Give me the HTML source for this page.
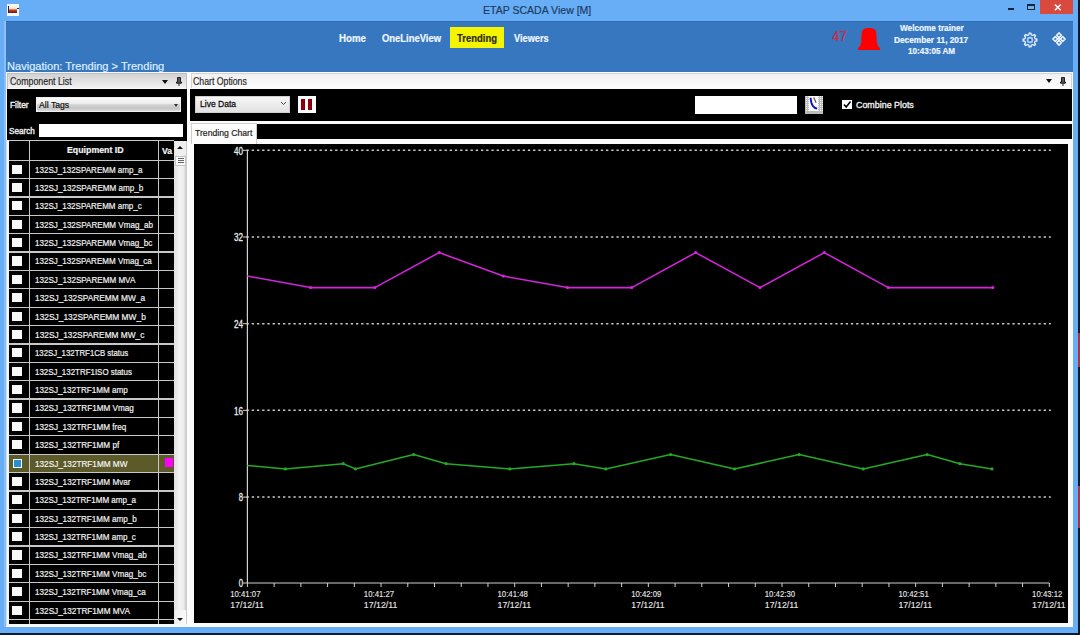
<!DOCTYPE html><html><head><meta charset="utf-8"><style>
*{margin:0;padding:0;box-sizing:border-box}
html,body{width:1080px;height:635px;overflow:hidden;background:#0c1b2c;font-family:"Liberation Sans",sans-serif}
.a{position:absolute}
.t{position:absolute;white-space:nowrap;line-height:1;transform-origin:0 0;-webkit-text-stroke:0.2px currentColor}
</style></head><body><div class="a" style="left:1078px;top:333px;width:2px;height:34px;background:#b03040"></div>
<div class="a" style="left:1078px;top:486px;width:2px;height:42px;background:#b03040"></div>
<div class="a" style="left:0;top:0;width:1077.6px;height:632.7px;background:#68aef6"></div>
<div class="a" style="left:4.4px;top:21px;width:1.6px;height:606px;background:#8cc0f4"></div>
<div class="a" style="left:6.9px;top:3.8px;width:12px;height:11.9px;background:#f2f8fc"></div>
<div class="a" style="left:8.2px;top:5.7px;width:9.1px;height:7.2px;background:linear-gradient(#fff8f0 0%,#f8d8c0 40%,#c04828 58%,#6a1408 100%);border-left:1px solid #402020"></div>
<div class="a" style="left:16.5px;top:7.6px;width:2.5px;height:1.4px;background:#1a2a60"></div>
<div class="t" style="left:483.00px;top:4.60px;font-size:11px;color:#1d3b63;transform:scaleX(0.9576);">ETAP SCADA View [M]</div>
<div class="a" style="left:1007.8px;top:7.8px;width:6.3px;height:2.2px;background:#0e2440"></div>
<div class="a" style="left:1027px;top:3.7px;width:7.8px;height:5.9px;border:1.2px solid #0e2440;border-top-width:2px;background:#7ab0e0"></div>
<div class="a" style="left:1040px;top:0;width:33px;height:13.7px;background:#d84a3e"></div>
<svg class="a" style="left:1053.5px;top:3.5px" width="8" height="7" viewBox="0 0 8 7"><path d="M.9 .5l5.8 5.8M6.7 .5L.9 6.3" stroke="#fff" stroke-width="1.5"/></svg>
<div class="a" style="left:6px;top:21.4px;width:1066.8px;height:50.6px;background:#3777c0;border-top:1px solid #2c6ab2"></div>
<div class="a" style="left:450.3px;top:26.8px;width:53.9px;height:21.3px;background:#f5f500"></div>
<div class="t" style="left:338.50px;top:33.90px;font-size:10px;font-weight:bold;color:#eef6ff;transform:scaleX(0.9718);">Home</div>
<div class="t" style="left:381.70px;top:33.90px;font-size:10px;font-weight:bold;color:#eef6ff;transform:scaleX(0.9423);">OneLineView</div>
<div class="t" style="left:457.30px;top:33.90px;font-size:10px;font-weight:bold;color:#2b2b10;transform:scaleX(0.9474);">Trending</div>
<div class="t" style="left:513.60px;top:33.90px;font-size:10px;font-weight:bold;color:#eef6ff;transform:scaleX(0.9223);">Viewers</div>
<div class="t" style="left:832.10px;top:28.70px;font-size:14.5px;color:#d02a40;transform:scaleX(0.9300);">47</div>
<svg class="a" style="left:858px;top:28.2px" width="22" height="22" viewBox="0 0 22 22"><path d="M11 0C6.2 0 3.9 1.6 3.6 5.5L3.1 14C2.9 17 1.6 18.8 0 20V21.9H22V20C20.4 18.8 19.1 17 18.9 14L18.4 5.5C18.1 1.6 15.8 0 11 0Z" fill="#ff0000"/></svg>
<div class="t" style="left:899.60px;top:23.80px;font-size:9px;font-weight:bold;color:#eef6ff;transform:scaleX(0.9118);">Welcome trainer</div>
<div class="t" style="left:893.75px;top:35.70px;font-size:9px;font-weight:bold;color:#eef6ff;transform:scaleX(0.9210);">December 11, 2017</div>
<div class="t" style="left:907.90px;top:47.20px;font-size:9px;font-weight:bold;color:#eef6ff;transform:scaleX(0.9024);">10:43:05 AM</div>
<svg class="a" style="left:1021px;top:30.5px" width="18" height="18" viewBox="0 0 18 18"><path d="M7.76 3.85 L8.07 2.06 L9.93 2.06 L10.24 3.85 L11.77 4.48 L13.25 3.44 L14.56 4.75 L13.52 6.23 L14.15 7.76 L15.94 8.07 L15.94 9.93 L14.15 10.24 L13.52 11.77 L14.56 13.25 L13.25 14.56 L11.77 13.52 L10.24 14.15 L9.93 15.94 L8.07 15.94 L7.76 14.15 L6.23 13.52 L4.75 14.56 L3.44 13.25 L4.48 11.77 L3.85 10.24 L2.06 9.93 L2.06 8.07 L3.85 7.76 L4.48 6.23 L3.44 4.75 L4.75 3.44 L6.23 4.48Z" fill="none" stroke="#eaf4ff" stroke-width="1.3" stroke-linejoin="round"/><circle cx="9" cy="9" r="2.4" fill="none" stroke="#b0d0f4" stroke-width="1.6"/><circle cx="9" cy="9" r="0.9" fill="#224a80"/></svg>
<svg class="a" style="left:1049.5px;top:30.3px" width="18" height="18" viewBox="0 0 18 18"><g fill="#9cc2ee" stroke="#eef6ff" stroke-width="1.3" stroke-linejoin="round"><path d="M9 2.75L11.5 5.25L9 7.75L6.5 5.25Z"/><path d="M9 10.25L11.5 12.75L9 15.25L6.5 12.75Z"/><path d="M5.25 6.5L7.75 9L5.25 11.5L2.75 9Z"/><path d="M12.75 6.5L15.25 9L12.75 11.5L10.25 9Z"/></g><circle cx="9" cy="9" r="1.3" fill="#d8e8fa"/><g fill="#2a5a98"><circle cx="9" cy="5.25" r=".65"/><circle cx="9" cy="12.75" r=".65"/><circle cx="5.25" cy="9" r=".65"/><circle cx="12.75" cy="9" r=".65"/></g></svg>
<div class="t" style="left:6.60px;top:60.50px;font-size:11px;color:#dcefff;transform:scaleX(1.0061);">Navigation: Trending &gt; Trending</div>
<div class="a" style="left:6px;top:72px;width:1066.5px;height:554.5px;background:#fcfcfc"></div>
<div class="a" style="left:6px;top:72px;width:181px;height:554px;background:#f6f6f6"></div>
<div class="a" style="left:6.5px;top:72.5px;width:180px;height:16px;background:linear-gradient(#d2d2d2,#f0f0f0 90%,#fafafa);border:1px solid #c0c0c0;border-bottom:0"></div>
<div class="t" style="left:9.70px;top:77.00px;font-size:10px;color:#2a2a2a;transform:scaleX(0.8795);">Component List</div>
<div class="a" style="left:161.5px;top:79.5px;width:0;height:0;border-left:3.5px solid transparent;border-right:3.5px solid transparent;border-top:4px solid #111"></div>
<svg class="a" style="left:176px;top:77px" width="6" height="9" viewBox="0 0 6 9"><path d="M1.5 .5h3v4.5h1v1.2H.5V5h1z" fill="#555" stroke="#111" stroke-width=".9"/><path d="M3 6.2V9" stroke="#222" stroke-width="1"/></svg>
<div class="a" style="left:7.3px;top:88.5px;width:179.8px;height:535.8px;background:#000"></div>
<div class="a" style="left:6px;top:139.5px;width:2.9px;height:486px;background:linear-gradient(90deg,#b8d4f0,#f4f8fa 50%,#f0f0f0)"></div>
<div class="t" style="left:10.00px;top:101.10px;font-size:9px;color:#eee;transform:scaleX(0.9300);-webkit-text-stroke:0.4px currentColor;">Filter</div>
<div class="a" style="left:36.1px;top:96.7px;width:145.2px;height:15.2px;background:linear-gradient(#fbfbfb 0%,#ededed 42%,#d2d2d2 52%,#c6c6c6 80%,#dcdcdc 100%);border:1px solid #f0f0f0"></div>
<div class="t" style="left:39.20px;top:101.40px;font-size:9px;color:#111;transform:scaleX(0.9633);">All Tags</div>
<div class="a" style="left:174px;top:103.5px;width:0;height:0;border-left:2.5px solid transparent;border-right:2.5px solid transparent;border-top:3px solid #333"></div>
<div class="t" style="left:9.40px;top:126.70px;font-size:9px;color:#eee;transform:scaleX(0.9047);-webkit-text-stroke:0.4px currentColor;">Search</div>
<div class="a" style="left:38.9px;top:123.5px;width:144.5px;height:13px;background:#fff"></div>
<div class="a" style="left:8.9px;top:140.0px;width:165.4px;height:484.29999999999995px;overflow:hidden"><div class="a" style="left:0;top:0;width:165.4px;height:1.2px;background:#c8c8c8"></div><div class="t" style="left:57.80px;top:6.30px;font-size:9px;font-weight:bold;color:#f4f4f4;transform:scaleX(0.9759);">Equipment ID</div><div class="t" style="left:153.40px;top:6.50px;font-size:9px;font-weight:bold;color:#f4f4f4;transform:scaleX(0.9608);">Va</div><div class="a" style="left:3.299999999999999px;top:24.499999999999993px;width:9.8px;height:9.2px;background:#f8f8f8"></div><div class="a" style="left:0;top:19.599999999999994px;width:165.4px;height:1.2px;background:#c8c8c8"></div><div class="t" style="left:26.10px;top:25.60px;font-size:9px;color:#f2f2f2;transform:scaleX(0.8920);">132SJ_132SPAREMM amp_a</div><div class="a" style="left:3.299999999999999px;top:42.87499999999999px;width:9.8px;height:9.2px;background:#f8f8f8"></div><div class="a" style="left:0;top:37.974999999999994px;width:165.4px;height:1.2px;background:#c8c8c8"></div><div class="t" style="left:26.10px;top:43.97px;font-size:9px;color:#f2f2f2;transform:scaleX(0.8995);">132SJ_132SPAREMM amp_b</div><div class="a" style="left:3.299999999999999px;top:61.24999999999999px;width:9.8px;height:9.2px;background:#f8f8f8"></div><div class="a" style="left:0;top:56.349999999999994px;width:165.4px;height:1.2px;background:#c8c8c8"></div><div class="t" style="left:26.10px;top:62.35px;font-size:9px;color:#f2f2f2;transform:scaleX(0.8908);">132SJ_132SPAREMM amp_c</div><div class="a" style="left:3.299999999999999px;top:79.625px;width:9.8px;height:9.2px;background:#f8f8f8"></div><div class="a" style="left:0;top:74.725px;width:165.4px;height:1.2px;background:#c8c8c8"></div><div class="t" style="left:26.10px;top:80.72px;font-size:9px;color:#f2f2f2;transform:scaleX(0.8972);">132SJ_132SPAREMM Vmag_ab</div><div class="a" style="left:3.299999999999999px;top:98.0px;width:9.8px;height:9.2px;background:#f8f8f8"></div><div class="a" style="left:0;top:93.1px;width:165.4px;height:1.2px;background:#c8c8c8"></div><div class="t" style="left:26.10px;top:99.10px;font-size:9px;color:#f2f2f2;transform:scaleX(0.8961);">132SJ_132SPAREMM Vmag_bc</div><div class="a" style="left:3.299999999999999px;top:116.375px;width:9.8px;height:9.2px;background:#f8f8f8"></div><div class="a" style="left:0;top:111.475px;width:165.4px;height:1.2px;background:#c8c8c8"></div><div class="t" style="left:26.10px;top:117.48px;font-size:9px;color:#f2f2f2;transform:scaleX(0.8923);">132SJ_132SPAREMM Vmag_ca</div><div class="a" style="left:3.299999999999999px;top:134.75000000000003px;width:9.8px;height:9.2px;background:#f8f8f8"></div><div class="a" style="left:0;top:129.85000000000002px;width:165.4px;height:1.2px;background:#c8c8c8"></div><div class="t" style="left:26.10px;top:135.85px;font-size:9px;color:#f2f2f2;transform:scaleX(0.8978);">132SJ_132SPAREMM MVA</div><div class="a" style="left:3.299999999999999px;top:153.12500000000003px;width:9.8px;height:9.2px;background:#f8f8f8"></div><div class="a" style="left:0;top:148.22500000000002px;width:165.4px;height:1.2px;background:#c8c8c8"></div><div class="t" style="left:26.10px;top:154.23px;font-size:9px;color:#f2f2f2;transform:scaleX(0.9269);">132SJ_132SPAREMM MW_a</div><div class="a" style="left:3.299999999999999px;top:171.50000000000003px;width:9.8px;height:9.2px;background:#f8f8f8"></div><div class="a" style="left:0;top:166.60000000000002px;width:165.4px;height:1.2px;background:#c8c8c8"></div><div class="t" style="left:26.10px;top:172.60px;font-size:9px;color:#f2f2f2;transform:scaleX(0.9320);">132SJ_132SPAREMM MW_b</div><div class="a" style="left:3.299999999999999px;top:189.87500000000003px;width:9.8px;height:9.2px;background:#f8f8f8"></div><div class="a" style="left:0;top:184.97500000000002px;width:165.4px;height:1.2px;background:#c8c8c8"></div><div class="t" style="left:26.10px;top:190.98px;font-size:9px;color:#f2f2f2;transform:scaleX(0.9241);">132SJ_132SPAREMM MW_c</div><div class="a" style="left:3.299999999999999px;top:208.25000000000003px;width:9.8px;height:9.2px;background:#f8f8f8"></div><div class="a" style="left:0;top:203.35000000000002px;width:165.4px;height:1.2px;background:#c8c8c8"></div><div class="t" style="left:26.10px;top:209.35px;font-size:9px;color:#f2f2f2;transform:scaleX(0.8706);">132SJ_132TRF1CB status</div><div class="a" style="left:3.299999999999999px;top:226.62500000000003px;width:9.8px;height:9.2px;background:#f8f8f8"></div><div class="a" style="left:0;top:221.72500000000002px;width:165.4px;height:1.2px;background:#c8c8c8"></div><div class="t" style="left:26.10px;top:227.73px;font-size:9px;color:#f2f2f2;transform:scaleX(0.8804);">132SJ_132TRF1ISO status</div><div class="a" style="left:3.299999999999999px;top:245.00000000000003px;width:9.8px;height:9.2px;background:#f8f8f8"></div><div class="a" style="left:0;top:240.10000000000002px;width:165.4px;height:1.2px;background:#c8c8c8"></div><div class="t" style="left:26.10px;top:246.10px;font-size:9px;color:#f2f2f2;transform:scaleX(0.8996);">132SJ_132TRF1MM amp</div><div class="a" style="left:3.299999999999999px;top:263.375px;width:9.8px;height:9.2px;background:#f8f8f8"></div><div class="a" style="left:0;top:258.475px;width:165.4px;height:1.2px;background:#c8c8c8"></div><div class="t" style="left:26.10px;top:264.48px;font-size:9px;color:#f2f2f2;transform:scaleX(0.9069);">132SJ_132TRF1MM Vmag</div><div class="a" style="left:3.299999999999999px;top:281.75px;width:9.8px;height:9.2px;background:#f8f8f8"></div><div class="a" style="left:0;top:276.85px;width:165.4px;height:1.2px;background:#c8c8c8"></div><div class="t" style="left:26.10px;top:282.85px;font-size:9px;color:#f2f2f2;transform:scaleX(0.9035);">132SJ_132TRF1MM freq</div><div class="a" style="left:3.299999999999999px;top:300.125px;width:9.8px;height:9.2px;background:#f8f8f8"></div><div class="a" style="left:0;top:295.225px;width:165.4px;height:1.2px;background:#c8c8c8"></div><div class="t" style="left:26.10px;top:301.23px;font-size:9px;color:#f2f2f2;transform:scaleX(0.9049);">132SJ_132TRF1MM pf</div><div class="a" style="left:0;top:313.6px;width:165.4px;height:18.375px;background:#5d5a2a"></div><div class="a" style="left:4.1px;top:318.8px;width:8.6px;height:9px;background:#2a8fd0;border:1.8px solid #f0fbff"></div><div class="a" style="left:156.1px;top:317.8px;width:8.3px;height:9.5px;background:#ff00ff"></div><div class="a" style="left:0;top:313.6px;width:165.4px;height:1.2px;background:#c8c8c8"></div><div class="t" style="left:26.10px;top:319.60px;font-size:9px;color:#f2f2f2;transform:scaleX(0.9101);">132SJ_132TRF1MM MW</div><div class="a" style="left:3.299999999999999px;top:336.875px;width:9.8px;height:9.2px;background:#f8f8f8"></div><div class="a" style="left:0;top:331.975px;width:165.4px;height:1.2px;background:#c8c8c8"></div><div class="t" style="left:26.10px;top:337.98px;font-size:9px;color:#f2f2f2;transform:scaleX(0.9049);">132SJ_132TRF1MM Mvar</div><div class="a" style="left:3.299999999999999px;top:355.25px;width:9.8px;height:9.2px;background:#f8f8f8"></div><div class="a" style="left:0;top:350.35px;width:165.4px;height:1.2px;background:#c8c8c8"></div><div class="t" style="left:26.10px;top:356.35px;font-size:9px;color:#f2f2f2;transform:scaleX(0.8925);">132SJ_132TRF1MM amp_a</div><div class="a" style="left:3.299999999999999px;top:373.625px;width:9.8px;height:9.2px;background:#f8f8f8"></div><div class="a" style="left:0;top:368.725px;width:165.4px;height:1.2px;background:#c8c8c8"></div><div class="t" style="left:26.10px;top:374.73px;font-size:9px;color:#f2f2f2;transform:scaleX(0.9004);">132SJ_132TRF1MM amp_b</div><div class="a" style="left:3.299999999999999px;top:392.0px;width:9.8px;height:9.2px;background:#f8f8f8"></div><div class="a" style="left:0;top:387.1px;width:165.4px;height:1.2px;background:#c8c8c8"></div><div class="t" style="left:26.10px;top:393.10px;font-size:9px;color:#f2f2f2;transform:scaleX(0.8965);">132SJ_132TRF1MM amp_c</div><div class="a" style="left:3.299999999999999px;top:410.375px;width:9.8px;height:9.2px;background:#f8f8f8"></div><div class="a" style="left:0;top:405.475px;width:165.4px;height:1.2px;background:#c8c8c8"></div><div class="t" style="left:26.10px;top:411.48px;font-size:9px;color:#f2f2f2;transform:scaleX(0.9011);">132SJ_132TRF1MM Vmag_ab</div><div class="a" style="left:3.299999999999999px;top:428.75px;width:9.8px;height:9.2px;background:#f8f8f8"></div><div class="a" style="left:0;top:423.85px;width:165.4px;height:1.2px;background:#c8c8c8"></div><div class="t" style="left:26.10px;top:429.85px;font-size:9px;color:#f2f2f2;transform:scaleX(0.9008);">132SJ_132TRF1MM Vmag_bc</div><div class="a" style="left:3.299999999999999px;top:447.125px;width:9.8px;height:9.2px;background:#f8f8f8"></div><div class="a" style="left:0;top:442.225px;width:165.4px;height:1.2px;background:#c8c8c8"></div><div class="t" style="left:26.10px;top:448.23px;font-size:9px;color:#f2f2f2;transform:scaleX(0.8967);">132SJ_132TRF1MM Vmag_ca</div><div class="a" style="left:3.299999999999999px;top:465.5px;width:9.8px;height:9.2px;background:#f8f8f8"></div><div class="a" style="left:0;top:460.6px;width:165.4px;height:1.2px;background:#c8c8c8"></div><div class="t" style="left:26.10px;top:466.60px;font-size:9px;color:#f2f2f2;transform:scaleX(0.9092);">132SJ_132TRF1MM MVA</div><div class="a" style="left:3.299999999999999px;top:483.875px;width:9.8px;height:9.2px;background:#f8f8f8"></div><div class="a" style="left:0;top:478.975px;width:165.4px;height:1.2px;background:#c8c8c8"></div><div class="a" style="left:20.200000000000003px;top:0;width:1.2px;height:500px;background:#c8c8c8"></div><div class="a" style="left:149.2px;top:0;width:1.2px;height:500px;background:#c8c8c8"></div></div>
<div class="a" style="left:174.3px;top:140.5px;width:12.9px;height:483.8px;background:linear-gradient(90deg,#e0e0e0,#f4f4f4 45%,#ececec 75%,#d4d4d4 88%,#c8c8c8)"></div>
<div class="a" style="left:175.2px;top:140.7px;width:10.6px;height:14.5px;background:#efefef"></div>
<div class="a" style="left:177px;top:146px;width:0;height:0;border-left:3.6px solid transparent;border-right:3.6px solid transparent;border-bottom:3.8px solid #111"></div>
<div class="a" style="left:175.3px;top:156px;width:10.4px;height:10px;background:#fafafa;border:1px solid #c4c4c4"></div>
<div class="a" style="left:177.5px;top:158.3px;width:6px;height:1.2px;background:#666;box-shadow:0 2px 0 #666,0 4px 0 #666"></div>
<div class="a" style="left:175.2px;top:610px;width:10.6px;height:14.3px;background:linear-gradient(90deg,#f0f0f0,#fafafa)"></div>
<div class="a" style="left:177px;top:617.5px;width:0;height:0;border-left:3.6px solid transparent;border-right:3.6px solid transparent;border-top:3.6px solid #111"></div>
<div class="a" style="left:190px;top:72.5px;width:882px;height:553.5px;background:#fbfbfb"></div>
<div class="a" style="left:190.5px;top:72.8px;width:881px;height:15.7px;background:linear-gradient(#f0f0f0,#f8f8f8 60%,#fdfdfd);border:1px solid #d4d4d4;border-bottom:0"></div>
<div class="t" style="left:193.40px;top:76.60px;font-size:10px;color:#2a2a2a;transform:scaleX(0.8720);">Chart Options</div>
<div class="a" style="left:1046px;top:79px;width:0;height:0;border-left:3.5px solid transparent;border-right:3.5px solid transparent;border-top:4px solid #111"></div>
<svg class="a" style="left:1060px;top:77px" width="6" height="9" viewBox="0 0 6 9"><path d="M1.5 .5h3v4.5h1v1.2H.5V5h1z" fill="#555" stroke="#111" stroke-width=".9"/><path d="M3 6.2V9" stroke="#222" stroke-width="1"/></svg>
<div class="a" style="left:190px;top:88.5px;width:882px;height:32.3px;background:#000"></div>
<div class="a" style="left:194.8px;top:95.8px;width:95.2px;height:17.7px;background:linear-gradient(#f6f6f6,#e2e2e2);border:1px solid #d0d0d0"></div>
<div class="t" style="left:199.60px;top:99.20px;font-size:9.5px;color:#111;transform:scaleX(0.8995);-webkit-text-stroke:0.3px currentColor;">Live Data</div>
<svg class="a" style="left:280px;top:101px" width="7" height="5" viewBox="0 0 7 5"><path d="M1 1l2.5 2.5L6 1" fill="none" stroke="#444" stroke-width="1"/></svg>
<div class="a" style="left:297.8px;top:95.8px;width:17.8px;height:17.6px;background:#fdfdfd"></div>
<div class="a" style="left:301.4px;top:98.8px;width:3.7px;height:11.6px;background:linear-gradient(90deg,#7a0008,#9a0010 50%,#780006)"></div>
<div class="a" style="left:308.3px;top:98.8px;width:3.7px;height:11.6px;background:linear-gradient(90deg,#7a0008,#9a0010 50%,#780006)"></div>
<div class="a" style="left:694.5px;top:96px;width:102.5px;height:17.5px;background:#fff"></div>
<div class="a" style="left:804.8px;top:95.6px;width:18.1px;height:18.1px;background:#f2f2f2;background-image:repeating-linear-gradient(90deg,#bcbcbc 0 .8px,transparent .8px 2px),repeating-linear-gradient(0deg,#bcbcbc 0 .8px,transparent .8px 2px)"></div>
<div class="a" style="left:809.2px;top:96px;width:8.7px;height:14.8px;background:#fdfdff"></div>
<div class="a" style="left:804.8px;top:110.8px;width:18.1px;height:2.9px;background:#bcbcbc"></div>
<svg class="a" style="left:804.8px;top:95.6px" width="18" height="18" viewBox="0 0 18 18"><path d="M5.6 1.8C5.8 5.4 6.3 7.9 7.8 9.9C8.8 11.4 10.2 12.3 12.2 12.6" fill="none" stroke="#1414c8" stroke-width="1.9"/><path d="M8.7 1.5L11.1 6.8" fill="none" stroke="#7a3a28" stroke-width="1.1"/></svg>
<div class="a" style="left:842.2px;top:100.4px;width:9.8px;height:8.6px;background:#fff"></div>
<svg class="a" style="left:842.2px;top:100px" width="10" height="9" viewBox="0 0 10 9"><path d="M2 4.5l2.2 2.5L8.5 1.5" fill="none" stroke="#000" stroke-width="1.6"/></svg>
<div class="t" style="left:856.10px;top:99.90px;font-size:9.5px;color:#f0f0f0;transform:scaleX(0.9356);-webkit-text-stroke:0.35px currentColor;">Combine Plots</div>
<div class="a" style="left:190px;top:120.8px;width:882px;height:3px;background:#fbfbfb"></div>
<div class="a" style="left:190.6px;top:122.6px;width:66px;height:21px;background:#fcfcfc;border:1px solid #cdcdcd;border-bottom:0"></div>
<div class="a" style="left:256.6px;top:124.2px;width:815px;height:15.3px;background:#000"></div>
<div class="t" style="left:195.20px;top:127.90px;font-size:9.5px;color:#222;transform:scaleX(0.9093);">Trending Chart</div>
<div class="a" style="left:194.4px;top:143.6px;width:873.3000000000001px;height:479.1px;background:#000"></div>
<svg class="a" style="left:0;top:0" width="1080" height="635" font-family="Liberation Sans, sans-serif"><line x1="246.55" y1="497.1" x2="1050.8" y2="497.1" stroke="#c8c8c8" stroke-width="1.5" stroke-dasharray="2.3 2.91"/><line x1="246.55" y1="410.3" x2="1050.8" y2="410.3" stroke="#c8c8c8" stroke-width="1.5" stroke-dasharray="2.3 2.91"/><line x1="246.55" y1="323.7" x2="1050.8" y2="323.7" stroke="#c8c8c8" stroke-width="1.5" stroke-dasharray="2.3 2.91"/><line x1="246.55" y1="237.0" x2="1050.8" y2="237.0" stroke="#c8c8c8" stroke-width="1.5" stroke-dasharray="2.3 2.91"/><line x1="246.55" y1="150.3" x2="1050.8" y2="150.3" stroke="#c8c8c8" stroke-width="1.5" stroke-dasharray="2.3 2.91"/><line x1="242.9" y1="583.0" x2="247.4" y2="583.0" stroke="#d0d0d0" stroke-width="1"/><text x="238.80" y="587.30" font-size="10.2" fill="#ececec" stroke="#ececec" stroke-width="0.3" textLength="4.3" lengthAdjust="spacingAndGlyphs">0</text><line x1="242.9" y1="497.1" x2="247.4" y2="497.1" stroke="#d0d0d0" stroke-width="1"/><text x="238.80" y="501.40" font-size="10.2" fill="#ececec" stroke="#ececec" stroke-width="0.3" textLength="4.3" lengthAdjust="spacingAndGlyphs">8</text><line x1="242.9" y1="410.3" x2="247.4" y2="410.3" stroke="#d0d0d0" stroke-width="1"/><text x="234.10" y="414.60" font-size="10.2" fill="#ececec" stroke="#ececec" stroke-width="0.3" textLength="9.0" lengthAdjust="spacingAndGlyphs">16</text><line x1="242.9" y1="323.7" x2="247.4" y2="323.7" stroke="#d0d0d0" stroke-width="1"/><text x="234.10" y="328.00" font-size="10.2" fill="#ececec" stroke="#ececec" stroke-width="0.3" textLength="9.0" lengthAdjust="spacingAndGlyphs">24</text><line x1="242.9" y1="237.0" x2="247.4" y2="237.0" stroke="#d0d0d0" stroke-width="1"/><text x="234.10" y="241.30" font-size="10.2" fill="#ececec" stroke="#ececec" stroke-width="0.3" textLength="9.0" lengthAdjust="spacingAndGlyphs">32</text><line x1="242.9" y1="150.3" x2="247.4" y2="150.3" stroke="#d0d0d0" stroke-width="1"/><text x="234.10" y="154.60" font-size="10.2" fill="#ececec" stroke="#ececec" stroke-width="0.3" textLength="9.0" lengthAdjust="spacingAndGlyphs">40</text><line x1="247.4" y1="150.3" x2="247.4" y2="583.0" stroke="#d0d0d0" stroke-width="1.2"/><line x1="247.4" y1="583.0" x2="1049.3" y2="583.0" stroke="#d0d0d0" stroke-width="1.2"/><line x1="247.40" y1="583.0" x2="247.40" y2="587.0" stroke="#d0d0d0" stroke-width="1"/><line x1="274.13" y1="583.0" x2="274.13" y2="587.0" stroke="#d0d0d0" stroke-width="1"/><line x1="300.86" y1="583.0" x2="300.86" y2="587.0" stroke="#d0d0d0" stroke-width="1"/><line x1="327.59" y1="583.0" x2="327.59" y2="587.0" stroke="#d0d0d0" stroke-width="1"/><line x1="354.32" y1="583.0" x2="354.32" y2="587.0" stroke="#d0d0d0" stroke-width="1"/><line x1="381.05" y1="583.0" x2="381.05" y2="587.0" stroke="#d0d0d0" stroke-width="1"/><line x1="407.78" y1="583.0" x2="407.78" y2="587.0" stroke="#d0d0d0" stroke-width="1"/><line x1="434.51" y1="583.0" x2="434.51" y2="587.0" stroke="#d0d0d0" stroke-width="1"/><line x1="461.24" y1="583.0" x2="461.24" y2="587.0" stroke="#d0d0d0" stroke-width="1"/><line x1="487.97" y1="583.0" x2="487.97" y2="587.0" stroke="#d0d0d0" stroke-width="1"/><line x1="514.70" y1="583.0" x2="514.70" y2="587.0" stroke="#d0d0d0" stroke-width="1"/><line x1="541.43" y1="583.0" x2="541.43" y2="587.0" stroke="#d0d0d0" stroke-width="1"/><line x1="568.16" y1="583.0" x2="568.16" y2="587.0" stroke="#d0d0d0" stroke-width="1"/><line x1="594.89" y1="583.0" x2="594.89" y2="587.0" stroke="#d0d0d0" stroke-width="1"/><line x1="621.62" y1="583.0" x2="621.62" y2="587.0" stroke="#d0d0d0" stroke-width="1"/><line x1="648.35" y1="583.0" x2="648.35" y2="587.0" stroke="#d0d0d0" stroke-width="1"/><line x1="675.08" y1="583.0" x2="675.08" y2="587.0" stroke="#d0d0d0" stroke-width="1"/><line x1="701.81" y1="583.0" x2="701.81" y2="587.0" stroke="#d0d0d0" stroke-width="1"/><line x1="728.54" y1="583.0" x2="728.54" y2="587.0" stroke="#d0d0d0" stroke-width="1"/><line x1="755.27" y1="583.0" x2="755.27" y2="587.0" stroke="#d0d0d0" stroke-width="1"/><line x1="782.00" y1="583.0" x2="782.00" y2="587.0" stroke="#d0d0d0" stroke-width="1"/><line x1="808.73" y1="583.0" x2="808.73" y2="587.0" stroke="#d0d0d0" stroke-width="1"/><line x1="835.46" y1="583.0" x2="835.46" y2="587.0" stroke="#d0d0d0" stroke-width="1"/><line x1="862.19" y1="583.0" x2="862.19" y2="587.0" stroke="#d0d0d0" stroke-width="1"/><line x1="888.92" y1="583.0" x2="888.92" y2="587.0" stroke="#d0d0d0" stroke-width="1"/><line x1="915.65" y1="583.0" x2="915.65" y2="587.0" stroke="#d0d0d0" stroke-width="1"/><line x1="942.38" y1="583.0" x2="942.38" y2="587.0" stroke="#d0d0d0" stroke-width="1"/><line x1="969.11" y1="583.0" x2="969.11" y2="587.0" stroke="#d0d0d0" stroke-width="1"/><line x1="995.84" y1="583.0" x2="995.84" y2="587.0" stroke="#d0d0d0" stroke-width="1"/><line x1="1022.57" y1="583.0" x2="1022.57" y2="587.0" stroke="#d0d0d0" stroke-width="1"/><line x1="1049.30" y1="583.0" x2="1049.30" y2="587.0" stroke="#d0d0d0" stroke-width="1"/><text x="230.20" y="596.6" font-size="9" fill="#e8e8e8" stroke="#e8e8e8" stroke-width="0.12" textLength="30.3" lengthAdjust="spacingAndGlyphs">10:41:07</text><text x="230.20" y="608.3" font-size="9" fill="#e8e8e8" stroke="#e8e8e8" stroke-width="0.12" textLength="33.6" lengthAdjust="spacingAndGlyphs">17/12/11</text><text x="363.85" y="596.6" font-size="9" fill="#e8e8e8" stroke="#e8e8e8" stroke-width="0.12" textLength="30.3" lengthAdjust="spacingAndGlyphs">10:41:27</text><text x="363.85" y="608.3" font-size="9" fill="#e8e8e8" stroke="#e8e8e8" stroke-width="0.12" textLength="33.6" lengthAdjust="spacingAndGlyphs">17/12/11</text><text x="497.50" y="596.6" font-size="9" fill="#e8e8e8" stroke="#e8e8e8" stroke-width="0.12" textLength="30.3" lengthAdjust="spacingAndGlyphs">10:41:48</text><text x="497.50" y="608.3" font-size="9" fill="#e8e8e8" stroke="#e8e8e8" stroke-width="0.12" textLength="33.6" lengthAdjust="spacingAndGlyphs">17/12/11</text><text x="631.15" y="596.6" font-size="9" fill="#e8e8e8" stroke="#e8e8e8" stroke-width="0.12" textLength="30.3" lengthAdjust="spacingAndGlyphs">10:42:09</text><text x="631.15" y="608.3" font-size="9" fill="#e8e8e8" stroke="#e8e8e8" stroke-width="0.12" textLength="33.6" lengthAdjust="spacingAndGlyphs">17/12/11</text><text x="764.80" y="596.6" font-size="9" fill="#e8e8e8" stroke="#e8e8e8" stroke-width="0.12" textLength="30.3" lengthAdjust="spacingAndGlyphs">10:42:30</text><text x="764.80" y="608.3" font-size="9" fill="#e8e8e8" stroke="#e8e8e8" stroke-width="0.12" textLength="33.6" lengthAdjust="spacingAndGlyphs">17/12/11</text><text x="898.45" y="596.6" font-size="9" fill="#e8e8e8" stroke="#e8e8e8" stroke-width="0.12" textLength="30.3" lengthAdjust="spacingAndGlyphs">10:42:51</text><text x="898.45" y="608.3" font-size="9" fill="#e8e8e8" stroke="#e8e8e8" stroke-width="0.12" textLength="33.6" lengthAdjust="spacingAndGlyphs">17/12/11</text><text x="1032.10" y="596.6" font-size="9" fill="#e8e8e8" stroke="#e8e8e8" stroke-width="0.12" textLength="30.3" lengthAdjust="spacingAndGlyphs">10:43:12</text><text x="1032.10" y="608.3" font-size="9" fill="#e8e8e8" stroke="#e8e8e8" stroke-width="0.12" textLength="33.6" lengthAdjust="spacingAndGlyphs">17/12/11</text><polyline points="247.4,276.1 310.5,287.6 374.8,287.6 439.1,252.6 503.2,276.1 567.4,287.6 631.7,287.6 695.7,252.6 760.0,287.6 824.3,252.6 888.3,287.6 992.8,287.6" fill="none" stroke="#d424dc" stroke-width="1.55" stroke-linejoin="round"/><circle cx="310.5" cy="287.6" r="1.6" fill="#d424dc"/><circle cx="374.8" cy="287.6" r="1.6" fill="#d424dc"/><circle cx="439.1" cy="252.6" r="1.6" fill="#d424dc"/><circle cx="503.2" cy="276.1" r="1.6" fill="#d424dc"/><circle cx="567.4" cy="287.6" r="1.6" fill="#d424dc"/><circle cx="631.7" cy="287.6" r="1.6" fill="#d424dc"/><circle cx="695.7" cy="252.6" r="1.6" fill="#d424dc"/><circle cx="760.0" cy="287.6" r="1.6" fill="#d424dc"/><circle cx="824.3" cy="252.6" r="1.6" fill="#d424dc"/><circle cx="888.3" cy="287.6" r="1.6" fill="#d424dc"/><circle cx="992.8" cy="287.6" r="1.6" fill="#d424dc"/><polyline points="247.4,465.5 285.4,468.9 343.2,463.7 355.4,468.9 413.7,454.6 446.1,463.7 509.8,468.9 573.9,463.7 605.8,468.9 670.6,454.6 734.6,468.9 799.1,454.6 863.2,468.9 927.2,454.6 959.9,463.7 992.0,468.9" fill="none" stroke="#24aa24" stroke-width="1.55" stroke-linejoin="round"/><circle cx="285.4" cy="468.9" r="1.6" fill="#24aa24"/><circle cx="343.2" cy="463.7" r="1.6" fill="#24aa24"/><circle cx="355.4" cy="468.9" r="1.6" fill="#24aa24"/><circle cx="413.7" cy="454.6" r="1.6" fill="#24aa24"/><circle cx="446.1" cy="463.7" r="1.6" fill="#24aa24"/><circle cx="509.8" cy="468.9" r="1.6" fill="#24aa24"/><circle cx="573.9" cy="463.7" r="1.6" fill="#24aa24"/><circle cx="605.8" cy="468.9" r="1.6" fill="#24aa24"/><circle cx="670.6" cy="454.6" r="1.6" fill="#24aa24"/><circle cx="734.6" cy="468.9" r="1.6" fill="#24aa24"/><circle cx="799.1" cy="454.6" r="1.6" fill="#24aa24"/><circle cx="863.2" cy="468.9" r="1.6" fill="#24aa24"/><circle cx="927.2" cy="454.6" r="1.6" fill="#24aa24"/><circle cx="959.9" cy="463.7" r="1.6" fill="#24aa24"/><circle cx="992.0" cy="468.9" r="1.6" fill="#24aa24"/></svg></body></html>
